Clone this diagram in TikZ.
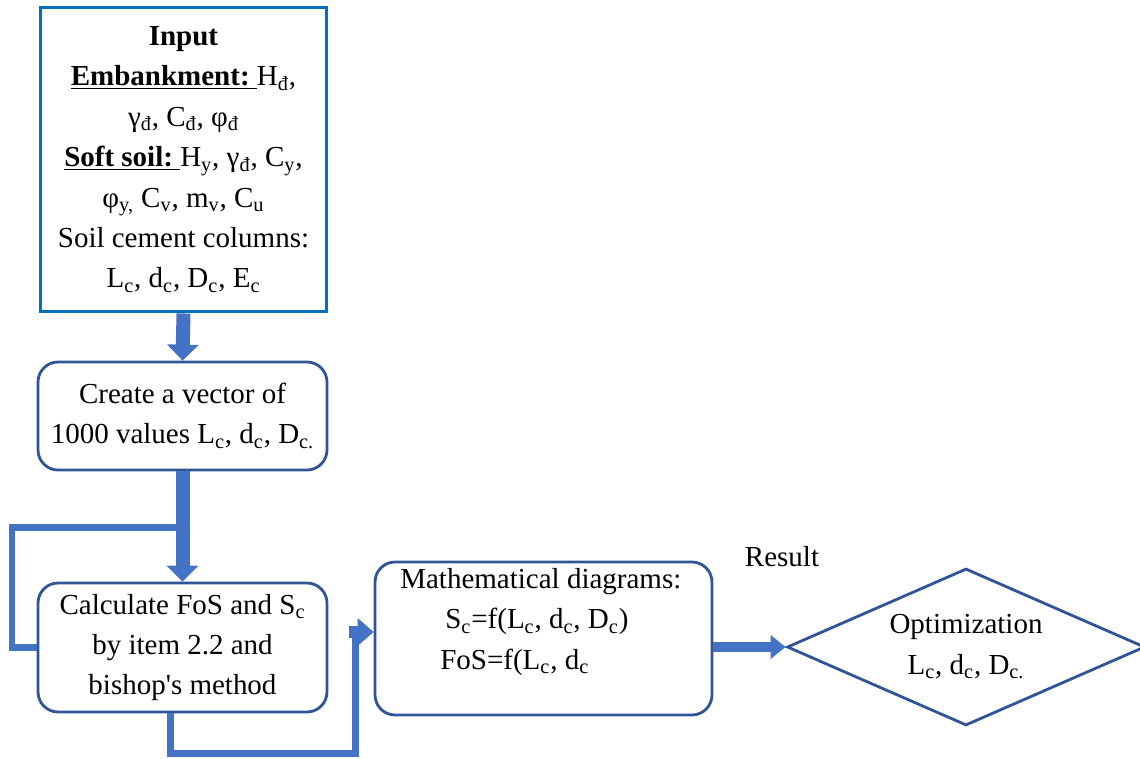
\documentclass[tikz,border=0pt]{standalone}
\usepackage{fontspec}
\setmainfont{Liberation Serif}
\usetikzlibrary{shapes.geometric,arrows.meta}

\definecolor{inputblue}{RGB}{0,112,192}
\definecolor{boxblue}{RGB}{47,85,151}
\definecolor{flowblue}{RGB}{68,114,196}

\tikzset{
  txt/.style={font=\fontsize{16.5}{23}\selectfont, align=center},
  stepbox/.style={txt, draw=boxblue, line width=1.6pt, rounded corners=0.4cm,
    minimum width=5.78cm},
  bigarrow/.style={draw=flowblue, line width=0.28cm,
    -{Triangle[width=0.62cm,length=0.32cm]}},
  midarrow/.style={draw=flowblue, line width=0.24cm,
    -{Triangle[width=0.54cm,length=0.32cm]}},
  flowline/.style={draw=flowblue, line width=0.14cm},
}

\begin{document}
\begin{tikzpicture}[x=0.02cm, y=-0.02cm]
    \useasboundingbox (0,0) rectangle (1140,758);

    % boxes
    \node[txt, draw=inputblue, line width=1.7pt, minimum width=5.74cm, minimum height=6.1cm]
      (input) at (183.5,159.5) {\textbf{Input}\\
        \underline{\textbf{Embankment:}\ }H\textsubscript{đ},\\
        γ\textsubscript{đ}, C\textsubscript{đ}, φ\textsubscript{đ}\\
        \underline{\textbf{Soft soil:}\ }H\textsubscript{y}, γ\textsubscript{đ}, C\textsubscript{y},\\
        φ\textsubscript{y,} C\textsubscript{v}, m\textsubscript{v}, C\textsubscript{u}\\
        Soil cement columns:\\
        L\textsubscript{c}, d\textsubscript{c}, D\textsubscript{c}, E\textsubscript{c}};
    \node[stepbox, minimum height=2.16cm] (vector) at (182.5,416)
      {Create a vector of\\ 1000 values L\textsubscript{c}, d\textsubscript{c}, D\textsubscript{c.}};
    \node[stepbox, minimum height=2.58cm] (calc) at (182.5,647.5)
      {Calculate FoS and S\textsubscript{c}\\ by item 2.2 and\\ bishop\textquotesingle s method};
    \node[stepbox, minimum width=6.74cm, minimum height=3.06cm] (diagrams) at (543.5,638.5) {};
    \node[txt, align=left, anchor=north west, inner sep=0pt] (diagramstext) at (400,568)
      {Mathematical diagrams:\\
       \hspace{0.9cm}S\textsubscript{c}=f(L\textsubscript{c}, d\textsubscript{c}, D\textsubscript{c})\\
       \hspace{0.8cm}FoS=f(L\textsubscript{c}, d\textsubscript{c}};
    \node[txt, diamond, aspect=2.28, draw=boxblue, line width=1.6pt, inner sep=0pt,
      minimum width=7.16cm, minimum height=3.14cm] (optim) at (966,647)
      {Optimization\\ L\textsubscript{c}, d\textsubscript{c}, D\textsubscript{c.}};
    \node[txt] (result) at (782,557) {Result};

    % connectors
    \coordinate (loopturn) at (12,527);
    \coordinate (bottoml) at (170,753);
    \coordinate (bottomr) at (355,753);
    \coordinate (feed) at (349,632);
    \draw[bigarrow] (input.south) -- (vector.north);
    \draw[flowline] (calc.west) -| (loopturn) -- (loopturn -| vector.south);
    \draw[bigarrow] (vector.south) -- (calc.north);
    \draw[flowline] (bottoml |- calc.south) -- (bottoml) -- (bottomr) -- (bottomr |- feed);
    \draw[midarrow] (feed) -- (feed -| diagrams.west);
    \draw[draw=flowblue, line width=0.2cm, -{Triangle[width=0.46cm,length=0.3cm]}]
      (diagrams.east |- optim.west) -- (optim.west);
\end{tikzpicture}
\end{document}
